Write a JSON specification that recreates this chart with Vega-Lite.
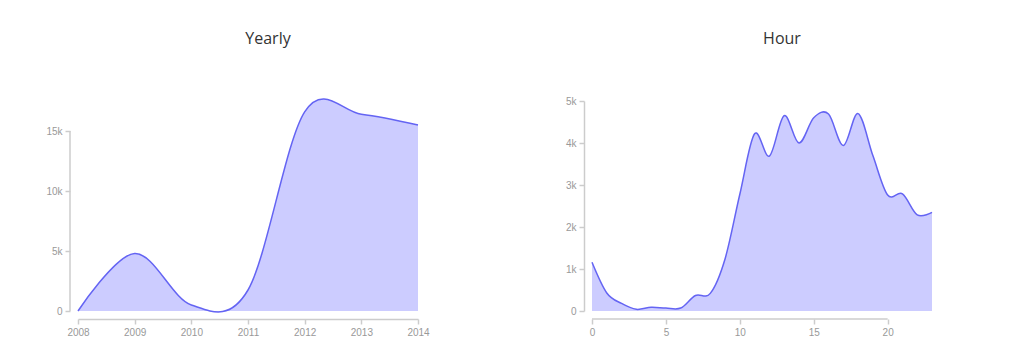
{
  "$schema": "https://vega.github.io/schema/vega-lite/v6.json",
  "padding": {"left": 45, "top": 30, "right": 5, "bottom": 5},
  "background": "white",
  "datasets": {
    "yearly": [
      {"year": 2008, "count": 0},
      {"year": 2009, "count": 4800},
      {"year": 2010, "count": 500},
      {"year": 2011, "count": 1750},
      {"year": 2012, "count": 16600},
      {"year": 2013, "count": 16400},
      {"year": 2014, "count": 15500}
    ],
    "hour": [
      {"hour": 0, "count": 1160},
      {"hour": 1, "count": 430},
      {"hour": 2, "count": 180},
      {"hour": 3, "count": 40},
      {"hour": 4, "count": 90},
      {"hour": 5, "count": 70},
      {"hour": 6, "count": 70},
      {"hour": 7, "count": 370},
      {"hour": 8, "count": 420},
      {"hour": 9, "count": 1240},
      {"hour": 10, "count": 2780},
      {"hour": 11, "count": 4220},
      {"hour": 12, "count": 3690},
      {"hour": 13, "count": 4650},
      {"hour": 14, "count": 4000},
      {"hour": 15, "count": 4600},
      {"hour": 16, "count": 4690},
      {"hour": 17, "count": 3940},
      {"hour": 18, "count": 4700},
      {"hour": 19, "count": 3700},
      {"hour": 20, "count": 2760},
      {"hour": 21, "count": 2790},
      {"hour": 22, "count": 2290},
      {"hour": 23, "count": 2350}
    ]
  },
  "spacing": 135,
  "hconcat": [
    {
      "title": {"text": "Yearly", "frame": "group", "anchor": "middle", "dx": 20, "offset": 49},
      "width": 340,
      "height": 210,
      "layer": [
        {
          "data": {"name": "yearly"},
          "mark": {"type": "area", "interpolate": "cardinal", "color": "#ccccff", "fillOpacity": 1, "line": {"stroke": "#6464f3", "strokeWidth": 1.5}},
          "encoding": {
            "x": {"field": "year", "type": "quantitative", "scale": {"domain": [2008, 2014], "nice": false}, "axis": {"values": [2008, 2009, 2010, 2011, 2012, 2013, 2014], "format": "d", "title": null}},
            "y": {"field": "count", "type": "quantitative", "scale": {"domain": [0, 17500], "nice": false}, "axis": {"values": [0, 5000, 10000, 15000], "labelExpr": "datum.value == 0 ? '0' : (datum.value / 1000) + 'k'", "title": null, "domain": false}}
          }
        },
        {
          "data": {"values": [{"a": 1}]},
          "mark": {"type": "rule", "xOffset": -8, "color": "#cccccc", "strokeWidth": 1.5},
          "encoding": {
            "x": {"datum": 2008, "type": "quantitative"},
            "y": {"datum": 0, "type": "quantitative"},
            "y2": {"datum": 15000}
          }
        }
      ]
    },
    {
      "title": {"text": "Hour", "frame": "group", "anchor": "middle", "dx": 20, "offset": 49},
      "width": 340,
      "height": 210,
      "layer": [
        {
          "data": {"name": "hour"},
          "mark": {"type": "area", "interpolate": "cardinal", "color": "#ccccff", "fillOpacity": 1, "line": {"stroke": "#6464f3", "strokeWidth": 1.5}},
          "encoding": {
            "x": {"field": "hour", "type": "quantitative", "scale": {"domain": [0, 23], "nice": false}, "axis": {"values": [0, 5, 10, 15, 20], "format": "d", "title": null, "domain": false}},
            "y": {"field": "count", "type": "quantitative", "scale": {"domain": [0, 5000], "nice": false}, "axis": {"values": [0, 1000, 2000, 3000, 4000, 5000], "labelExpr": "datum.value == 0 ? '0' : (datum.value / 1000) + 'k'", "title": null}}
          }
        },
        {
          "data": {"values": [{"a": 1}]},
          "mark": {"type": "rule", "yOffset": 8, "color": "#cccccc", "strokeWidth": 1.5},
          "encoding": {
            "x": {"datum": 0, "type": "quantitative"},
            "x2": {"datum": 20},
            "y": {"datum": 0, "type": "quantitative"}
          }
        }
      ]
    }
  ],
  "config": {
    "view": {"stroke": null},
    "title": {"font": "Open Sans", "fontSize": 16, "fontWeight": "normal", "color": "#333333"},
    "axis": {
      "grid": false,
      "offset": 8,
      "domainColor": "#cccccc",
      "domainWidth": 1.5,
      "tickColor": "#cccccc",
      "tickWidth": 1.5,
      "tickSize": 5,
      "labelColor": "#999999",
      "labelFont": "Liberation Sans",
      "labelFontSize": 10,
      "labelPadding": 3,
      "labelFlush": false
    }
  }
}
